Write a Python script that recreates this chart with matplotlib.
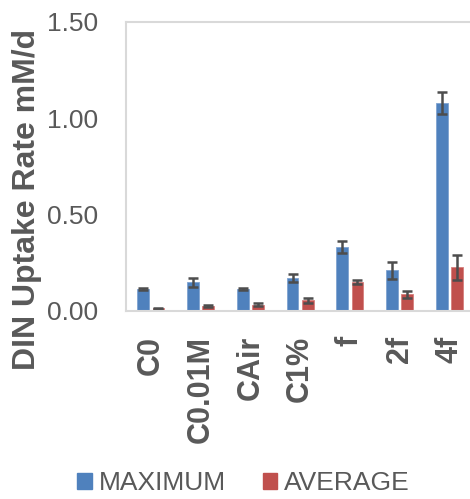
import matplotlib
matplotlib.use("Agg")
import matplotlib.pyplot as plt
import numpy as np
from matplotlib.patches import Patch

categories = ["C0", "C0.01M", "CAir", "C1%", "f", "2f", "4f"]
maximum = [0.114, 0.148, 0.114, 0.170, 0.332, 0.211, 1.078]
maximum_err = [0.004, 0.023, 0.004, 0.021, 0.033, 0.045, 0.058]
average = [0.014, 0.026, 0.031, 0.055, 0.150, 0.087, 0.226]
average_err = [0.003, 0.004, 0.008, 0.014, 0.012, 0.018, 0.064]
yticks = [0.0, 0.5, 1.0, 1.5]

blue = "#4F81BD"
red = "#C0504D"
gray = "#595959"
frame = "#D9D9D9"

plt.rcParams["font.family"] = ["Liberation Sans", "DejaVu Sans"]

fig = plt.figure(figsize=(4.7, 4.99), dpi=100)
ax = fig.add_axes([0.268, 0.377, 0.741, 0.579])

x = np.arange(len(categories))
w = 0.235
off = 0.152
err_kw = dict(ecolor="#4D4D4D", elinewidth=1.8, capsize=3.6, capthick=1.8)
ax.bar(x - off, maximum, w, color=blue, edgecolor="#7FA3D1", linewidth=0.6,
       yerr=maximum_err, error_kw=err_kw, zorder=2)
ax.bar(x + off, average, w, color=red, edgecolor="#D67F7D", linewidth=0.6,
       yerr=average_err, error_kw=err_kw, zorder=2)

ax.set_xlim(-0.5, len(categories) - 0.5)
ax.set_ylim(0, 1.5)
ax.set_yticks(yticks)
ax.set_yticklabels([f"{v:.2f}" for v in yticks], fontsize=19, color=gray)
ax.set_xticks(x)
ax.set_xticklabels(categories, rotation=90, fontsize=22, fontweight="bold",
                   color=gray)
ax.tick_params(axis="both", length=0)
ax.tick_params(axis="x", pad=18)
ax.tick_params(axis="y", pad=20)

for s in ax.spines.values():
    s.set_color(frame)
    s.set_linewidth(1.5)

ax.set_ylabel("DIN Uptake Rate mM/d", fontsize=23, fontweight="bold",
              color=gray)
ax.yaxis.set_label_coords(-0.24, 0.384)

handles = [Patch(color=blue, label="MAXIMUM"), Patch(color=red, label="AVERAGE")]
fig.legend(handles=handles, loc="center", bbox_to_anchor=(0.518, 0.032),
           ncol=2, frameon=False, fontsize=19, labelcolor=gray,
           handlelength=0.55, handleheight=0.55, handletextpad=0.25,
           columnspacing=1.4)

fig.savefig("out.png", dpi=100)
